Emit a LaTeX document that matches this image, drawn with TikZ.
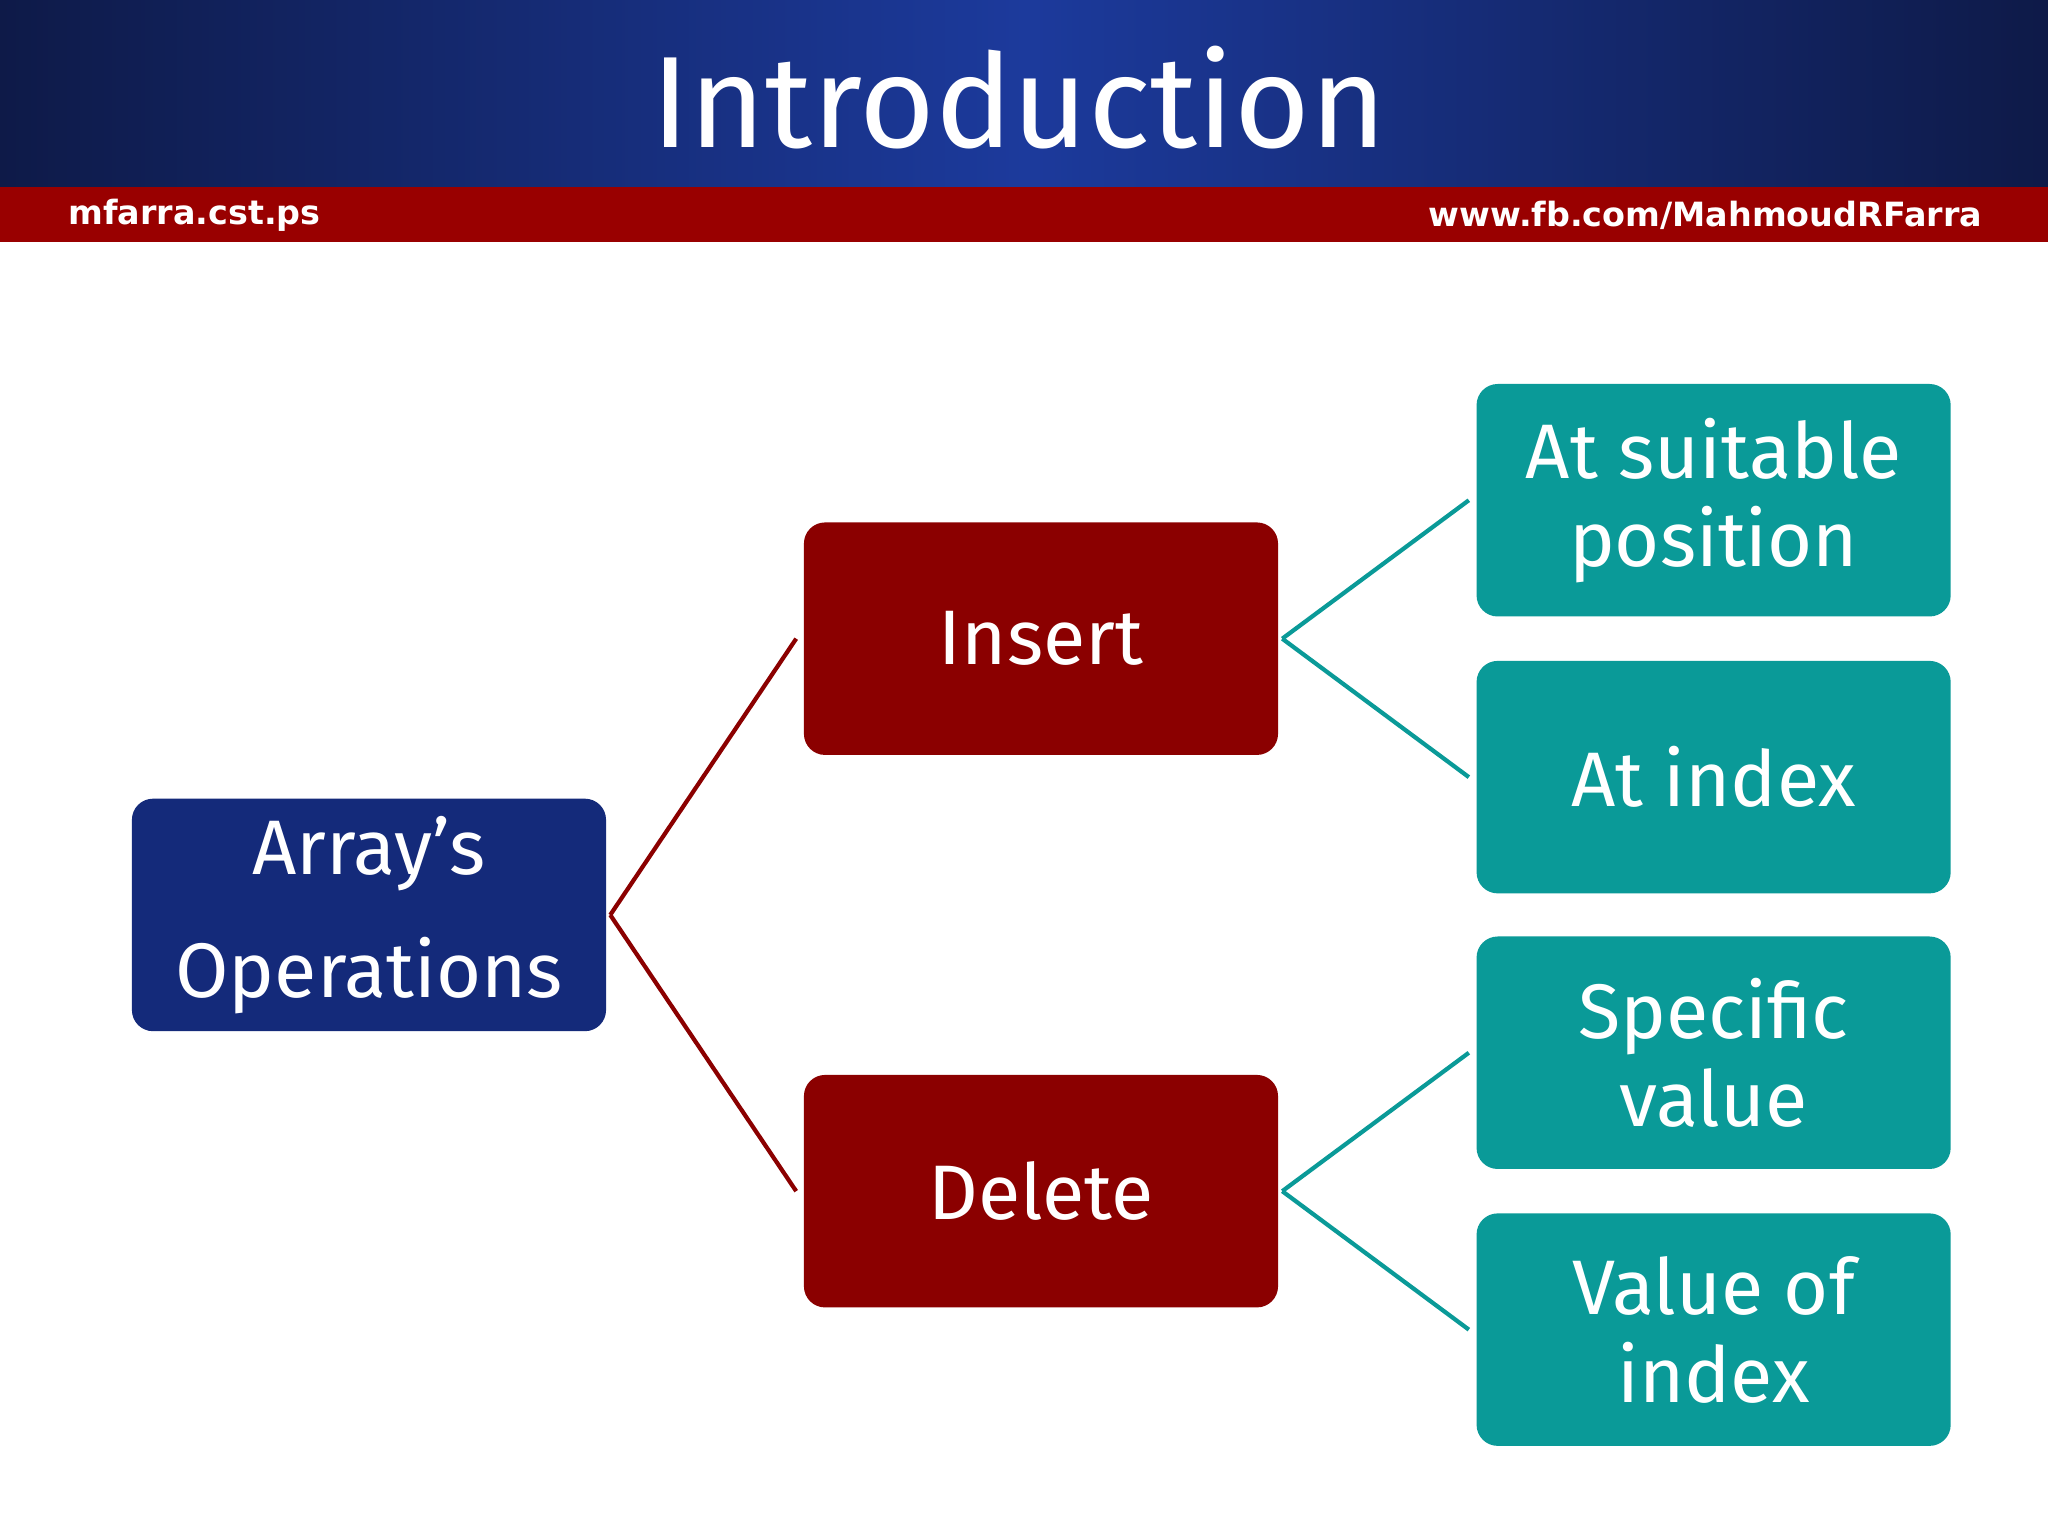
\documentclass[tikz,border=0pt]{standalone}
\usepackage{fontspec}
\setmainfont{Fira Sans}
\newfontfamily\barfont{DejaVu Sans}
\definecolor{navy}{HTML}{142A7A}
\definecolor{hdark}{HTML}{0E1A48}
\definecolor{hblue}{HTML}{1C3A9C}
\definecolor{bar}{HTML}{990000}
\definecolor{dred}{HTML}{8B0000}
\definecolor{teal}{HTML}{0A9A98}
\begin{document}
\begin{tikzpicture}[x=0.013061cm,y=-0.013061cm,
  box/.style={rounded corners=6pt,minimum width=363*0.013061cm,minimum height=178*0.013061cm,text=white,font=\fontsize{22}{25}\selectfont,align=center,inner sep=0pt},
  red line/.style={draw=dred,line width=1.2pt},
  teal line/.style={draw=teal,line width=1.2pt}]
\useasboundingbox (0,0) rectangle (1568,1176);
\fill[white] (0,0) rectangle (1568,1176);
\shade[left color=hdark,right color=hblue] (0,0) rectangle (784,143);
\shade[left color=hblue,right color=hdark] (784,0) rectangle (1568,143);
\fill[bar] (0,143) rectangle (1568,185);
\node[text=white,font=\fontsize{37}{44}\selectfont] (title) at (780,75) {Introduction};
\node[text=white,font=\barfont\bfseries\fontsize{9.5}{12}\selectfont,anchor=west,inner sep=0pt] (l) at (52,165) {mfarra.cst.ps};
\node[text=white,font=\barfont\bfseries\fontsize{9.5}{12}\selectfont,anchor=east,inner sep=0pt] (r) at (1518,165) {www.fb.com/MahmoudRFarra};
\node[box,fill=navy] (arr) at (282.5,700.5) {Array's\\[10pt]Operations};
\node[box,fill=dred] (ins) at (797,489) {Insert};
\node[box,fill=dred] (del) at (797,912) {Delete};
\node[box,fill=teal] (t1) at (1312,383) {At suitable\\position};
\node[box,fill=teal] (t2) at (1312,595) {At index};
\node[box,fill=teal] (t3) at (1312,806) {Specific\\value};
\node[box,fill=teal] (t4) at (1312,1018) {Value of\\index};
\draw[red line] ([xshift=1pt]arr.east) -- ([xshift=-2pt]ins.west);
\draw[red line] ([xshift=1pt]arr.east) -- ([xshift=-2pt]del.west);
\draw[teal line] ([xshift=1pt]ins.east) -- ([xshift=-2pt]t1.west);
\draw[teal line] ([xshift=1pt]ins.east) -- ([xshift=-2pt]t2.west);
\draw[teal line] ([xshift=1pt]del.east) -- ([xshift=-2pt]t3.west);
\draw[teal line] ([xshift=1pt]del.east) -- ([xshift=-2pt]t4.west);
\end{tikzpicture}
\end{document}
